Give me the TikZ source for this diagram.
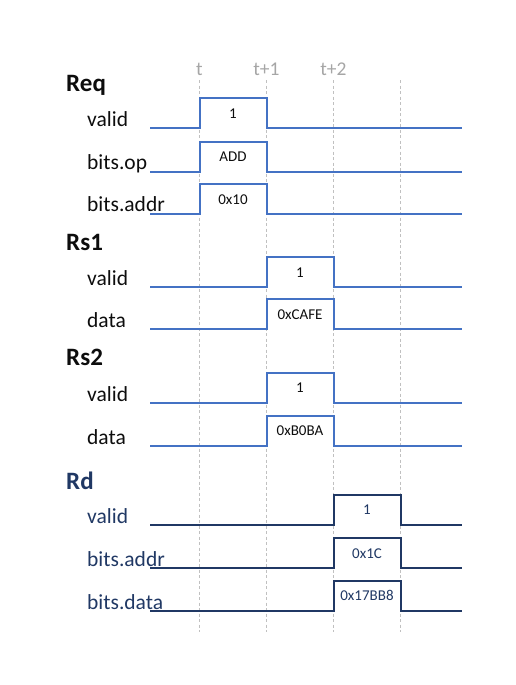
\documentclass[tikz,border=0pt]{standalone}
\usepackage{fontspec}
\setmainfont{Carlito}
\definecolor{sigblue}{HTML}{4472C4}
\definecolor{signavy}{HTML}{203864}
\definecolor{gridgray}{HTML}{C0C0C0}
\definecolor{tgray}{HTML}{A6A6A6}
\definecolor{txtdark}{HTML}{0D0D0D}
\newcommand\wave[6]{%
  \draw[sigline,#5] (150,#1) -- (#2,#1) -- (#2,#1-30) -- (#3,#1-30) -- (#3,#1) -- (461.7,#1);
  \node[valtext,text=#6] at ({(#2+#3)/2},#1-15) {#4};}
\begin{document}
\begin{tikzpicture}[x=1pt,y=-1pt,
  sigline/.style={line width=2pt,line join=miter},
  grid/.style={gridgray,line width=1.8pt,dash pattern=on 3pt off 2.5pt},
  title/.style={anchor=base west,font=\fontsize{25}{30}\selectfont\bfseries,inner sep=0pt,text=txtdark},
  lbl/.style={anchor=base west,font=\fontsize{21.5}{26}\selectfont,inner sep=0pt,text=txtdark},
  valtext/.style={font=\fontsize{15}{18}\selectfont,inner sep=0pt},
  tlbl/.style={anchor=base,font=\fontsize{19.5}{23}\selectfont,text=tgray,inner sep=0pt}]
\useasboundingbox (0,0) rectangle (515,685);
% grid
\foreach \x in {199.5,266.5,333.5,400.5}{
  \draw[grid] (\x,80) -- (\x,632);}
\node[tlbl] (lt) at (199.5,75) {t};
\node[tlbl] (lt1) at (266.5,75) {t+1};
\node[tlbl] (lt2) at (333.5,75) {t+2};
% Req
\node[title] (req) at (66,92) {Req};
\node[lbl] (reqv) at (87,126.5) {valid};
\node[lbl] (reqo) at (87,169) {bits.op};
\node[lbl] (reqa) at (87,211.5) {bits.addr};
\wave{128.3}{199.5}{266.5}{1}{sigblue}{txtdark}
\wave{171.7}{199.5}{266.5}{ADD}{sigblue}{txtdark}
\wave{214.3}{199.5}{266.5}{0x10}{sigblue}{txtdark}
% Rs1
\node[title] (rs1) at (66,250) {Rs1};
\node[lbl] (rs1v) at (87,285.5) {valid};
\node[lbl] (rs1d) at (87,327.5) {data};
\wave{287.3}{266.5}{333.5}{1}{sigblue}{txtdark}
\wave{329.3}{266.5}{333.5}{0xCAFE}{sigblue}{txtdark}
% Rs2
\node[title] (rs2) at (66,365) {Rs2};
\node[lbl] (rs2v) at (87,401) {valid};
\node[lbl] (rs2d) at (87,444) {data};
\wave{402.7}{266.5}{333.5}{1}{sigblue}{txtdark}
\wave{445.7}{266.5}{333.5}{0xB0BA}{sigblue}{txtdark}
% Rd
\node[title,text=signavy] (rd) at (66,489) {Rd};
\node[lbl,text=signavy] (rdv) at (87,523.5) {valid};
\node[lbl,text=signavy] (rda) at (87,566.5) {bits.addr};
\node[lbl,text=signavy] (rdd) at (87,609) {bits.data};
\wave{525}{333.5}{400.5}{1}{signavy}{signavy}
\wave{568.3}{333.5}{400.5}{0x1C}{signavy}{signavy}
\wave{610.7}{333.5}{400.5}{0x17BB8}{signavy}{signavy}
\end{tikzpicture}
\end{document}
